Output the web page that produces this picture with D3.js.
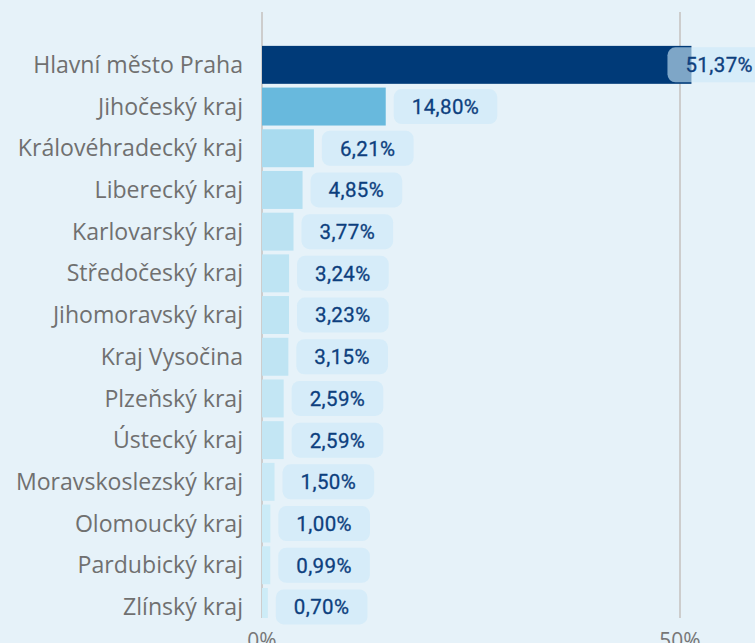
<!DOCTYPE html>
<html>
<head>
<meta charset="utf-8">
<script src="https://cdn.jsdelivr.net/npm/d3@7"></script>
<style>
  html, body { margin: 0; padding: 0; background: #e6f2f9; }
  svg { display: block; }
</style>
</head>
<body>
<div id="chart"></div>
<script>
// Podíl krajů (%)
const regions = [
  'Hlavní město Praha', 'Jihočeský kraj', 'Královéhradecký kraj', 'Liberecký kraj',
  'Karlovarský kraj', 'Středočeský kraj', 'Jihomoravský kraj', 'Kraj Vysočina',
  'Plzeňský kraj', 'Ústecký kraj', 'Moravskoslezský kraj', 'Olomoucký kraj',
  'Pardubický kraj', 'Zlínský kraj'
];
const shares = [51.37, 14.80, 6.21, 4.85, 3.77, 3.24, 3.23, 3.15, 2.59, 2.59, 1.50, 1.00, 0.99, 0.70];
const xTicks = [0, 50];

const W = 755, H = 643;
const plotTop = 12, plotBottom = 618;

const svg = d3.select('#chart').append('svg')
  .attr('width', W).attr('height', H);

svg.append('rect').attr('width', W).attr('height', H).attr('fill', '#e6f2f9');

const x = d3.scaleLinear().domain([0, 50]).range([262, 680]);
const y = d3.scaleBand().domain(regions).range([44, 627.8])
  .paddingInner(0.09).paddingOuter(0.045);

const color = d3.scaleLinear()
  .domain([0.7, 2.6, 6.21, 14.8, 51.37])
  .range(['#cdecf7', '#c3e6f4', '#a9dbef', '#68b9dd', '#003a78']);

const data = regions.map((r, i) => ({ region: r, value: shares[i] }));

// ── gridlines ──
svg.append('g').selectAll('line').data(xTicks).join('line')
  .attr('x1', d => x(d)).attr('x2', d => x(d))
  .attr('y1', plotTop).attr('y2', plotBottom)
  .attr('stroke', '#cdcdcd').attr('stroke-width', 2);

svg.append('g').selectAll('text').data(xTicks).join('text')
  .attr('x', d => x(d)).attr('y', 648)
  .attr('text-anchor', 'middle')
  .attr('font-family', '"Open Sans", sans-serif')
  .attr('font-size', 21).attr('fill', '#777')
  .text(d => d + '%');

// ── bars (clipped to plot area) ──
svg.append('clipPath').attr('id', 'plot-clip')
  .append('rect').attr('x', 0).attr('y', 0).attr('width', W).attr('height', plotBottom);

svg.append('g').attr('clip-path', 'url(#plot-clip)')
  .selectAll('rect').data(data).join('rect')
  .attr('x', x(0))
  .attr('y', d => y(d.region))
  .attr('width', d => x(d.value) - x(0))
  .attr('height', y.bandwidth())
  .attr('fill', d => color(d.value));

// ── category labels ──
const labels = svg.append('g').selectAll('text').data(data).join('text')
  .attr('x', 243)
  .attr('y', d => y(d.region) + y.bandwidth() / 2)
  .attr('dy', '0.35em')
  .attr('text-anchor', 'end')
  .attr('font-family', '"Open Sans", sans-serif')
  .attr('font-size', 20)
  .attr('fill', '#707070')
  .text(d => d.region);

// size the labels so the longest one spans like in the source (~210px)
const w0 = labels.nodes()[0].getComputedTextLength();
labels.attr('font-size', 20 * 210 / w0);

// ── value badges ──
const fmt = v => d3.format('.2f')(v).replace('.', ',') + '%';
const padX = 18, badgeH = 35;

const badges = svg.append('g').selectAll('g').data(data).join('g');

badges.each(function(d) {
  const g = d3.select(this);
  const cy = y(d.region) + y.bandwidth() / 2;
  const txt = g.append('text')
    .attr('y', cy).attr('dy', '0.36em')
    .attr('font-family', 'Roboto, sans-serif')
    .attr('font-weight', 400)
    .attr('font-size', 20.5)
    .attr('letter-spacing', 0.4)
    .attr('stroke', '#0d3f7e').attr('stroke-width', 0.3)
    .attr('fill', '#0d3f7e')
    .text(fmt(d.value));
  const tw = txt.node().getComputedTextLength();
  const bw = tw + padX * 2;
  let bx = x(d.value) + 8;
  if (bx + padX + tw > 753) bx = 753 - tw - padX;
  g.insert('rect', 'text')
    .attr('x', bx).attr('y', cy - badgeH / 2)
    .attr('width', bw).attr('height', badgeH)
    .attr('rx', 8)
    .attr('fill', '#cbe8f9').attr('fill-opacity', 0.62);
  txt.attr('x', bx + padX);
});
</script>
</body>
</html>
